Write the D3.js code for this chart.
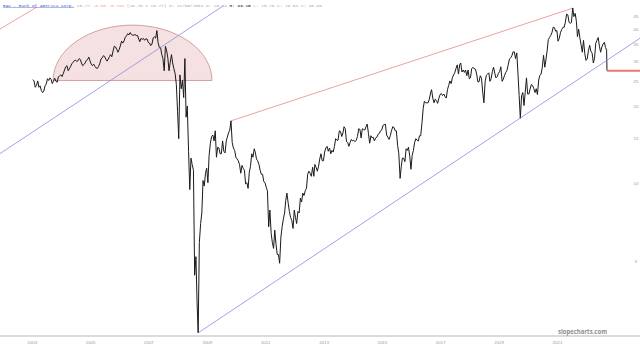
<!DOCTYPE html>
<html><head><meta charset="utf-8">
<script src="https://cdn.jsdelivr.net/npm/d3@7"></script>
<style>html,body{margin:0;padding:0;background:#fff;overflow:hidden}</style>
</head><body><svg id="c" width="640" height="347"></svg>
<script>
// ---- data (adjusted closes, two readings per month, Jul 2003 .. Mar 2023) ----
const firstMonth = "2003-07";
const closes = [
// 2003 Jul-Dec
25.5,25.2, 23.8,24.2, 25.2,23.8, 24.1,23.1, 22.7,23.0, 24.1,24.5,
// 2004
25.7,25.3, 25.9,25.5, 24.6,25.2, 25.8,25.1, 24.9,26.1, 26.4,26.6, 26.2,26.9, 27.8,28.6, 28.9,27.6, 28.1,28.7, 29.4,29.8, 30.2,30.4,
// 2005
30.0,30.2, 30.8,30.5, 29.6,28.9, 29.2,29.6, 30.3,30.5, 31.2,30.2, 29.3,28.9, 29.3,28.7, 28.3,28.2, 28.7,29.4, 30.7,31.0, 31.6,31.4,
// 2006
30.6,30.1, 30.7,31.4, 31.9,31.3, 33.0,34.4, 34.2,33.5, 32.6,33.4, 34.5,36.0, 35.4,36.1, 37.3,37.8, 38.5,38.1, 38.9,38.2, 38.0,38.0,
// 2007
38.2,37.9, 37.9,36.7, 35.8,36.9, 36.6,36.9, 36.3,36.8, 36.7,35.6, 35.4,34.6, 35.1,37.1, 37.4,37.0, 39.6,35.6, 34.0,34.1, 32.0,30.8,
// 2008
27.6,34.4, 33.0,30.9, 27.6,29.7, 31.9,29.6, 28.1,27.0, 24.4,19.2, 15.0,26.6, 23.5,25.3, 21.7,30.8, 18.2,20.1, 13.4,9.5, 12.6,11.9,
// 2009
11.3,4.4, 5.2,3.4, 2.62,5.9, 7.0,7.7, 10.3,9.8, 11.0,11.5, 10.1,12.9, 14.4,15.3, 15.5,14.7, 16.1,12.7, 13.9,13.8, 13.1,13.1,
// 2010
14.7,13.4, 13.2,14.7, 15.2,15.8, 16.2,17.6, 14.5,13.8, 13.5,12.7, 12.5,12.3, 11.9,11.0, 11.8,11.5, 11.3,10.0, 10.1,9.6, 11.1,11.7,
// 2011
13.1,12.7, 13.7,13.2, 12.5,12.3, 11.9,11.3, 10.9,10.9, 10.2,10.1, 9.7,9.4, 6.8,7.9, 6.4,5.9, 5.6,6.6, 5.8,5.3, 5.3,4.9,
// 2012
6.2,6.8, 7.3,7.7, 8.6,9.2, 8.4,7.8, 7.4,7.2, 6.7,7.9, 7.4,7.0, 7.8,7.7, 8.8,8.5, 9.2,9.0, 9.4,9.6, 10.9,11.2,
// 2013
11.0,10.7, 11.6,10.7, 11.9,11.6, 11.2,11.7, 12.5,13.1, 12.3,12.3, 13.3,13.8, 14.0,13.4, 13.8,13.1, 13.5,13.3, 14.0,15.0, 14.8,14.8,
// 2014
16.1,16.0, 15.3,15.8, 16.7,16.4, 14.6,14.5, 14.0,14.5, 14.9,14.7, 14.8,14.6, 14.8,15.3, 16.4,16.3, 15.1,16.4, 16.3,16.2, 16.7,17.1,
// 2015
15.7,14.4, 15.4,15.1, 15.2,14.7, 15.1,15.2, 15.6,15.7, 16.1,16.2, 16.9,17.0, 17.1,15.5, 15.2,14.9, 15.4,16.1, 16.7,16.6, 16.1,16.1,
// 2016
14.1,13.1, 10.5,11.7, 12.6,12.6, 12.2,13.7, 13.5,13.9, 12.8,11.4, 12.9,13.5, 14.5,15.0, 14.8,14.7, 15.4,15.4, 17.3,19.7, 21.0,20.7,
// 2017
20.7,20.7, 21.4,22.6, 23.3,21.6, 20.7,21.4, 21.1,20.6, 21.6,22.3, 22.5,22.1, 22.4,21.9, 21.6,23.3, 24.2,25.2, 24.6,25.9, 26.6,27.1,
// 2018
28.2,29.1, 26.8,29.2, 29.6,27.3, 27.8,27.2, 27.8,26.4, 27.8,25.7, 25.9,28.1, 28.5,28.1, 28.0,26.8, 25.0,25.0, 26.4,25.8, 22.8,20.7,
// 2019
25.1,26.5, 26.8,27.1, 25.1,25.7, 27.4,28.5, 27.0,25.9, 26.2,27.0, 27.4,28.6, 25.1,25.6, 26.5,27.2, 27.7,29.1, 30.7,31.0, 31.6,32.7,
// 2020
32.7,30.8, 32.4,26.8, 22.1,18.0, 22.1,22.7, 20.2,22.7, 25.9,22.4, 22.4,23.4, 24.4,24.2, 23.5,22.7, 23.5,22.3, 25.4,26.5, 26.8,28.5,
// 2021
31.7,28.5, 30.7,33.3, 36.5,37.2, 37.9,38.9, 40.8,40.7, 39.4,39.6, 36.0,36.9, 38.9,40.0, 40.8,40.8, 42.7,45.9, 45.6,42.7, 42.2,42.7,
// 2022
48.5,44.9, 46.2,43.0, 37.5,40.1, 37.0,34.8, 32.6,36.3, 32.2,30.3, 30.7,33.0, 34.7,32.9, 32.3,29.6, 30.9,35.3, 36.3,37.2, 34.4,32.6,
// 2023 Jan-Mar
34.2,35.1, 35.6,34.0, 33.2,27.6
];
const lastDate = "2023-03-13";

const yearLabels = ["2003","2005","2007","2009","2011","2013","2015","2017","2019","2021"];
const priceTicks = [45,40,35,30,25,20,15,10,5];

// drawn studies (date, price)
const channelLow  = [["2009-03-06", 2.62], ["2024-05-01", 37.0]];
const channelHigh = [["2002-05-20", 13.1], ["2010-01-15", 49.4]];
const resistance  = [["2010-04-23", 17.6], ["2022-01-14", 48.5]];
const redTopLeft  = [["2002-05-20", 40.1], ["2003-08-28", 48.9]];
const domeLeft = "2004-03-18", domeRight = "2009-08-28", domeBase = 25.3, domeTop = 41.6;

const header = [
  {t:"BAC - Bank Of America Corp.", c:"#4f5fd0", u:true},
  {t:" 26.77", c:"#a8a8a8"},
  {t:" -0.30 -0.76%", c:"#f0a882"},
  {t:" (26.76 x 26.77) D: 11/08/2004 O: 28.84", c:"#a8a8a8"},
  {t:" H: 29.15", c:"#555", b:true},
  {t:" L: 28.76 C: 29.04 V: 46.95", c:"#a8a8a8"}
];

// ---- drawing ----
const parse = d3.timeParse("%Y-%m-%d");
const svg = d3.select("#c");
const x = d3.scaleTime().domain([parse("2009-03-06"), parse(lastDate)]).range([198, 607]);
const y = d3.scaleLog().domain([2.62, 48.5]).range([333, 8]);

const [fy, fm] = firstMonth.split("-").map(Number);
const series = closes.map((v, i) => {
  const m = Math.floor(i / 2);
  return {d: new Date(fy, fm - 1 + m, i % 2 ? 23 : 8), v};
});
series[series.length - 1].d = parse(lastDate);

// dome (half ellipse)
const xl = x(parse(domeLeft)), xr = x(parse(domeRight));
const cy = y(domeBase), ry = cy - y(domeTop), rx = (xr - xl) / 2;
svg.append("path")
  .attr("d", `M${xl},${cy} A${rx},${ry} 0 0 1 ${xr},${cy} Z`)
  .attr("fill", "#f3dcdc").attr("fill-opacity", 0.85)
  .attr("stroke", "#c98c8c").attr("stroke-width", 0.8);

// bottom axis line
svg.append("line").attr("x1", 0).attr("x2", 640).attr("y1", 336).attr("y2", 336)
  .attr("stroke", "#cfcfcf").attr("stroke-width", 1.5);

// year labels
svg.selectAll("text.yr").data(yearLabels).join("text").attr("class", "yr")
  .attr("x", d => x(new Date(+d, 6, 1))).attr("y", 343.5)
  .attr("text-anchor", "middle").attr("font-family", "Liberation Sans, Arial, sans-serif")
  .attr("font-size", 4.4).attr("fill", "#9a9a9a").text(d => d);

// price labels on the right
svg.selectAll("text.pt").data(priceTicks).join("text").attr("class", "pt")
  .attr("x", 636).attr("y", d => y(d) + 1.5)
  .attr("text-anchor", "middle").attr("font-family", "Liberation Sans, Arial, sans-serif")
  .attr("font-size", 4.4).attr("fill", "#9a9a9a").text(d => d);

// trendlines
const seg = (pts, color, w) => svg.append("line")
  .attr("x1", x(parse(pts[0][0]))).attr("y1", y(pts[0][1]))
  .attr("x2", x(parse(pts[1][0]))).attr("y2", y(pts[1][1]))
  .attr("stroke", color).attr("stroke-width", w);
seg(redTopLeft, "#e58a8a", 0.8);
seg(resistance, "#e58a8a", 0.8);

// price line
svg.append("path").datum(series)
  .attr("d", d3.line().x(d => x(d.d)).y(d => y(d.v)))
  .attr("fill", "none").attr("stroke", "#1a1a1a").attr("stroke-width", 1)
  .attr("stroke-linejoin", "round");

seg(channelHigh, "#8a8ae6", 0.8);
seg(channelLow, "#8a8ae6", 0.8);

// last price marker
const last = series[series.length - 1];
svg.append("line").attr("x1", x(last.d)).attr("x2", 640)
  .attr("y1", y(last.v)).attr("y2", y(last.v))
  .attr("stroke", "#e37b7b").attr("stroke-width", 2);

// header
const ht = svg.append("text").attr("x", 3).attr("y", 6.5)
  .attr("font-family", "Liberation Mono, DejaVu Sans Mono, monospace")
  .attr("font-size", 4.4).attr("xml:space", "preserve");
header.forEach(h => {
  const ts = ht.append("tspan").attr("fill", h.c).text(h.t);
  if (h.u) ts.attr("text-decoration", "underline");
  if (h.b) ts.attr("font-weight", "bold");
});

// watermark
svg.append("text").attr("x", 607).attr("y", 333.5).attr("text-anchor", "end")
  .attr("font-family", "Open Sans, Lato, sans-serif").attr("font-weight", "bold")
  .attr("font-size", 7).attr("fill", "#8c8c8c")
  .attr("textLength", 49).attr("lengthAdjust", "spacingAndGlyphs")
  .text("slopecharts.com");
</script>
</body></html>
